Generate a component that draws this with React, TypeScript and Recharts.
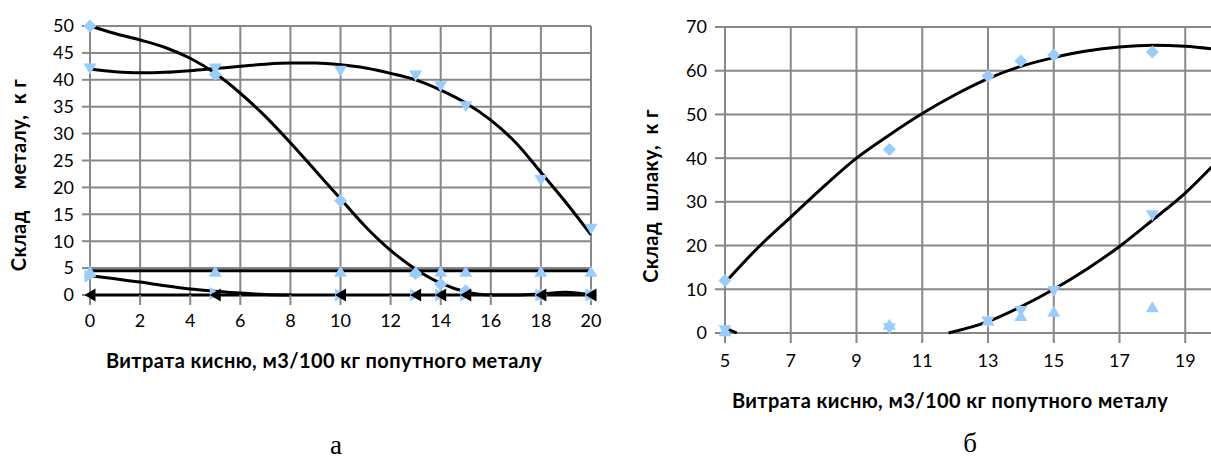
import React from "react"
import { ComposedChart, Scatter, Line, XAxis, YAxis, CartesianGrid } from "recharts"

// ---------- chart "а": composition of metal ----------
const xA = [0, 5, 10, 13, 14, 15, 18, 20]
const diamondA = [50, 41, 17.5, 4, 2, 0.8, 0, 0]
const downA = [42, 42, 41.6, 40.7, 38.7, 35, 21.3, 12.2]
const upA = [4.4, 4.4, 4.4, 4.4, 4.4, 4.4, 4.4, 4.4]
const rightA = [3.5, 0.3, 0, 0, 0, 0, 0, 0]
const leftA = [0, 0, 0, 0, 0, 0, 0, 0]

// trend lines
const trendXA = [0, 1, 2, 3, 4, 5, 6, 7, 8, 9, 10, 11, 12, 13, 14, 15, 16, 17, 18, 19, 20]
const trendDiamondA = [50, 48.6, 47.4, 46, 44, 41.2, 37.5, 33.2, 28.3, 23.1, 17.9, 12.7, 8.3, 4.8, 2.2, 0.6, 0, 0, 0.2, 0.5, 0]
const trendDownA = [42, 41.5, 41.3, 41.4, 41.7, 42.1, 42.5, 42.9, 43.1, 43.1, 42.8, 42.2, 41.2, 40, 38.1, 35.7, 32.5, 28.3, 22.8, 17.2, 11.2]
const trendRightXA = [0, 1, 2, 3, 4, 5, 6, 7, 8]
const trendRightA = [3.6, 3.0, 2.4, 1.7, 1.1, 0.7, 0.35, 0.1, 0]
const flatXA = [0, 20]
const trendUpA = [4.5, 4.5]
const trendZeroA = [0, 0]
const ticksXA = [0, 2, 4, 6, 8, 10, 12, 14, 16, 18, 20]
const ticksYA = [0, 5, 10, 15, 20, 25, 30, 35, 40, 45, 50]

// ---------- chart "б": composition of slag ----------
const xB = [5, 10, 13, 14, 15, 18]
const diamondB = [12, 42, 58.8, 62.2, 63.6, 64.3]
const downB = [0.5, 1, 2.5, 4.9, 9.5, 26.8]
const upB = [0.5, 2, 3, 4, 5, 6]

const trendXB = [5, 6, 7, 8, 9, 10, 11, 12, 13, 14, 15, 16, 17, 18, 19, 20]
const trendDiamondB = [11.5, 19.5, 26.5, 33.5, 40, 45.3, 50.2, 54.5, 58.2, 61, 63, 64.5, 65.4, 65.8, 65.6, 64.8]
const trendLowXB = [11.8, 13, 14, 15, 16, 17, 18, 19, 20]
const trendLowB = [0, 2.6, 6, 10, 14.6, 19.8, 25.8, 32, 39.5]
const trendStubXB = [5, 5.36]
const trendStubB = [1.2, 0]
// the axis runs to 21, which falls just past the cropped right edge
const ticksXB = [5, 7, 9, 11, 13, 15, 17, 19]
const ticksYB = [0, 10, 20, 30, 40, 50, 60, 70]

const pts = (xs: number[], ys: number[]) => xs.map((x, i) => ({ x, y: ys[i] }))

const BLUE = "#99ccff"
const GRID = "#878787"
const tickFont = { fontFamily: "Lato", fontSize: 18, fill: "#000" }

function marker(kind: string, fill: string) {
  return (p: any) => {
    const { cx, cy } = p
    if (cx == null || cy == null) return <g />
    let d: number[][] = []
    if (kind === "diamond") d = [[cx, cy - 6.5], [cx + 6.5, cy], [cx, cy + 6.5], [cx - 6.5, cy]]
    if (kind === "up") d = [[cx, cy - 5.5], [cx + 6.5, cy + 5.5], [cx - 6.5, cy + 5.5]]
    if (kind === "down") d = [[cx - 6.5, cy - 5.5], [cx + 6.5, cy - 5.5], [cx, cy + 5.5]]
    if (kind === "right") d = [[cx - 5.5, cy - 6.5], [cx + 5.5, cy], [cx - 5.5, cy + 6.5]]
    if (kind === "left") d = [[cx + 5.5, cy - 6.5], [cx - 5.5, cy], [cx + 5.5, cy + 6.5]]
    return <polygon points={d.map((q) => q.join(",")).join(" ")} fill={fill} />
  }
}

const lineProps = {
  dataKey: "y",
  type: "monotone" as const,
  stroke: "#000",
  strokeWidth: 3,
  dot: false,
  activeDot: false,
  isAnimationActive: false,
}

const titleStyle: React.CSSProperties = {
  position: "absolute",
  fontFamily: "Lato",
  fontWeight: 700,
  fontSize: 20,
  letterSpacing: 0.4,
  whiteSpace: "pre",
  transform: "translate(-50%, -50%)",
  color: "#000",
}

const captionStyle: React.CSSProperties = {
  position: "absolute",
  fontFamily: "Liberation Serif",
  fontSize: 27,
  transform: "translate(-50%, -50%)",
  color: "#000",
}

export default function App() {
  return (
    <div
      style={{
        position: "absolute",
        left: 0,
        top: 0,
        width: 1211,
        height: 458,
        overflow: "hidden",
        background: "#fff",
      }}
    >
      <div style={{ position: "absolute", left: 0, top: 0 }}>
        <ComposedChart width={620} height={345} margin={{ top: 26, right: 29, left: 0, bottom: 0 }}>
          <CartesianGrid stroke={GRID} strokeWidth={2} />
          <XAxis
            dataKey="x"
            type="number"
            domain={[0, 20]}
            ticks={ticksXA}
            height={50}
            tick={tickFont}
            tickSize={10}
            tickMargin={9}
            axisLine={false}
            tickLine={{ stroke: GRID, strokeWidth: 2 }}
          />
          <YAxis
            type="number"
            domain={[0, 50]}
            ticks={ticksYA}
            width={90}
            tick={tickFont}
            tickSize={8}
            tickMargin={8}
            axisLine={false}
            tickLine={{ stroke: GRID, strokeWidth: 2 }}
          />
          <Scatter data={pts(xA, diamondA)} dataKey="y" shape={marker("diamond", BLUE)} isAnimationActive={false} />
          <Scatter data={pts(xA, downA)} dataKey="y" shape={marker("down", BLUE)} isAnimationActive={false} />
          <Scatter data={pts(xA, upA)} dataKey="y" shape={marker("up", BLUE)} isAnimationActive={false} />
          <Scatter data={pts(xA, rightA)} dataKey="y" shape={marker("right", BLUE)} isAnimationActive={false} />
          <Line data={pts(trendXA, trendDiamondA)} {...lineProps} />
          <Line data={pts(trendXA, trendDownA)} {...lineProps} />
          <Line data={pts(trendRightXA, trendRightA)} {...lineProps} />
          <Line data={pts(flatXA, trendUpA)} {...lineProps} />
          <Line data={pts(flatXA, trendZeroA)} {...lineProps} />
          <Scatter data={pts(xA, leftA)} dataKey="y" shape={marker("left", "#000")} isAnimationActive={false} />
        </ComposedChart>
      </div>

      <div style={{ position: "absolute", left: 600, top: 0 }}>
        <ComposedChart width={680} height={420} margin={{ top: 27, right: 29, left: 0, bottom: 0 }}>
          <CartesianGrid stroke={GRID} strokeWidth={2} />
          <XAxis
            dataKey="x"
            type="number"
            domain={[5, 21]}
            ticks={ticksXB}
            height={87}
            tick={tickFont}
            tickSize={10}
            tickMargin={11}
            axisLine={false}
            tickLine={{ stroke: GRID, strokeWidth: 2 }}
          />
          <YAxis
            type="number"
            domain={[0, 70]}
            ticks={ticksYB}
            width={125}
            tick={tickFont}
            tickSize={10}
            tickMargin={8}
            axisLine={false}
            tickLine={{ stroke: GRID, strokeWidth: 2 }}
          />
          <Scatter data={pts(xB, diamondB)} dataKey="y" shape={marker("diamond", BLUE)} isAnimationActive={false} />
          <Scatter data={pts(xB, downB)} dataKey="y" shape={marker("down", BLUE)} isAnimationActive={false} />
          <Scatter data={pts(xB, upB)} dataKey="y" shape={marker("up", BLUE)} isAnimationActive={false} />
          <Line data={pts(trendXB, trendDiamondB)} {...lineProps} />
          <Line data={pts(trendLowXB, trendLowB)} {...lineProps} />
          <Line data={pts(trendStubXB, trendStubB)} {...lineProps} />
        </ComposedChart>
      </div>

      <div style={{ ...titleStyle, left: 18, top: 175, transform: "translate(-50%, -50%) rotate(-90deg)" }}>
        {"Склад    металу,  к г"}
      </div>
      <div style={{ ...titleStyle, left: 324, top: 360 }}>Витрата кисню, м3/100 кг попутного металу</div>
      <div style={{ ...captionStyle, left: 336, top: 445 }}>а</div>

      <div style={{ ...titleStyle, left: 650, top: 196, transform: "translate(-50%, -50%) rotate(-90deg)" }}>
        {"Склад  шлаку,  к г"}
      </div>
      <div style={{ ...titleStyle, left: 950, top: 400 }}>Витрата кисню, м3/100 кг попутного металу</div>
      <div style={{ ...captionStyle, left: 970, top: 443 }}>б</div>
    </div>
  )
}
